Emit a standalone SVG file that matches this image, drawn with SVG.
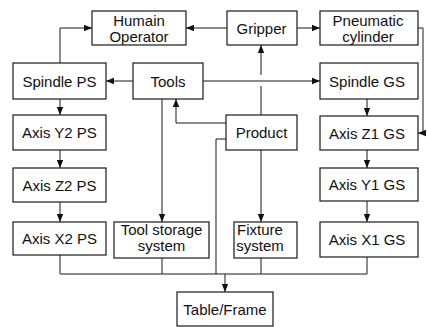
<svg xmlns="http://www.w3.org/2000/svg" width="427" height="327" viewBox="0 0 427 327">
<style>
.box{fill:#fff;stroke:#1a1a1a;stroke-width:1.2}
.t{font-family:"Liberation Sans",Arial,sans-serif;font-size:15px;fill:#111;text-anchor:middle}
.c{fill:none;stroke:#1a1a1a;stroke-width:1}
</style>
<defs>
<marker id="arr" markerUnits="userSpaceOnUse" markerWidth="8" markerHeight="8" viewBox="0 0 8 8" refX="8" refY="4" orient="auto">
<path d="M0,0.8 L8,4 L0,7.2 Z" fill="#111"/>
</marker>
</defs>
<rect width="427" height="327" fill="#fff"/>
<g id="connectors">
<path class="c" d="M60,63 V28 H92" marker-end="url(#arr)"/>
<path class="c" d="M227,28 H186" marker-end="url(#arr)"/>
<path class="c" d="M297,28 H320" marker-end="url(#arr)"/>
<path class="c" d="M418,28 H423 V133 H418" marker-end="url(#arr)"/>
<path class="c" d="M133,81 H106" marker-end="url(#arr)"/>
<path class="c" d="M203,81 H320" marker-end="url(#arr)"/>
<path class="c" d="M261,115 V86"/>
<path class="c" d="M261,75 V45" marker-end="url(#arr)"/>
<path class="c" d="M226,123 H176 V99" marker-end="url(#arr)"/>
<path class="c" d="M162,99 V222" marker-end="url(#arr)"/>
<path class="c" d="M261,150 V222" marker-end="url(#arr)"/>
<path class="c" d="M60,99 V115" marker-end="url(#arr)"/>
<path class="c" d="M60,150 V168" marker-end="url(#arr)"/>
<path class="c" d="M60,202 V222" marker-end="url(#arr)"/>
<path class="c" d="M367,99 V116" marker-end="url(#arr)"/>
<path class="c" d="M367,150 V168" marker-end="url(#arr)"/>
<path class="c" d="M367,201 V222" marker-end="url(#arr)"/>
<path class="c" d="M226,139 H216 V274"/>
<path class="c" d="M60,255 V274 H367 V257"/>
<path class="c" d="M162,258 V274"/>
<path class="c" d="M261,258 V274"/>
<path class="c" d="M225,274 V292" marker-end="url(#arr)"/>
</g>
<g id="humain-operator"><rect class="box" x="92" y="11" width="94" height="34"/><text class="t" x="139" y="25.5">Humain</text><text class="t" x="139" y="41.5">Operator</text></g>
<g id="gripper"><rect class="box" x="227" y="11" width="70" height="34"/><text class="t" x="261.5" y="33.5">Gripper</text></g>
<g id="pneumatic-cylinder"><rect class="box" x="320" y="11" width="98" height="34"/><text class="t" x="368" y="25.5">Pneumatic</text><text class="t" x="368" y="41.5">cylinder</text></g>
<g id="spindle-ps"><rect class="box" x="13" y="63" width="93" height="36"/><text class="t" x="59.5" y="86.5">Spindle PS</text></g>
<g id="tools"><rect class="box" x="133" y="63" width="70" height="36"/><text class="t" x="168" y="86.5">Tools</text></g>
<g id="spindle-gs"><rect class="box" x="320" y="63" width="98" height="36"/><text class="t" x="367" y="86.5">Spindle GS</text></g>
<g id="axis-y2-ps"><rect class="box" x="13" y="115" width="93" height="35"/><text class="t" x="59.5" y="138">Axis Y2 PS</text></g>
<g id="product"><rect class="box" x="226" y="115" width="71" height="35"/><text class="t" x="261.5" y="138">Product</text></g>
<g id="axis-z1-gs"><rect class="box" x="320" y="116" width="98" height="34"/><text class="t" x="367" y="138.5">Axis Z1 GS</text></g>
<g id="axis-z2-ps"><rect class="box" x="13" y="168" width="93" height="34"/><text class="t" x="59.5" y="190.5">Axis Z2 PS</text></g>
<g id="axis-y1-gs"><rect class="box" x="320" y="168" width="98" height="33"/><text class="t" x="367" y="190">Axis Y1 GS</text></g>
<g id="axis-x2-ps"><rect class="box" x="13" y="222" width="93" height="33"/><text class="t" x="59.5" y="244">Axis X2 PS</text></g>
<g id="tool-storage-system"><rect class="box" x="114" y="222" width="95" height="36"/><text class="t" x="161.5" y="235">Tool storage</text><text class="t" x="161.5" y="250.5">system</text></g>
<g id="fixture-system"><rect class="box" x="234" y="222" width="63" height="36"/><text class="t" x="260" y="235">Fixture</text><text class="t" x="260" y="250.5">system</text></g>
<g id="axis-x1-gs"><rect class="box" x="320" y="222" width="98" height="35"/><text class="t" x="367" y="245">Axis X1 GS</text></g>
<g id="table-frame"><rect class="box" x="177" y="292" width="96" height="34"/><text class="t" x="225" y="315">Table/Frame</text></g>
</svg>
